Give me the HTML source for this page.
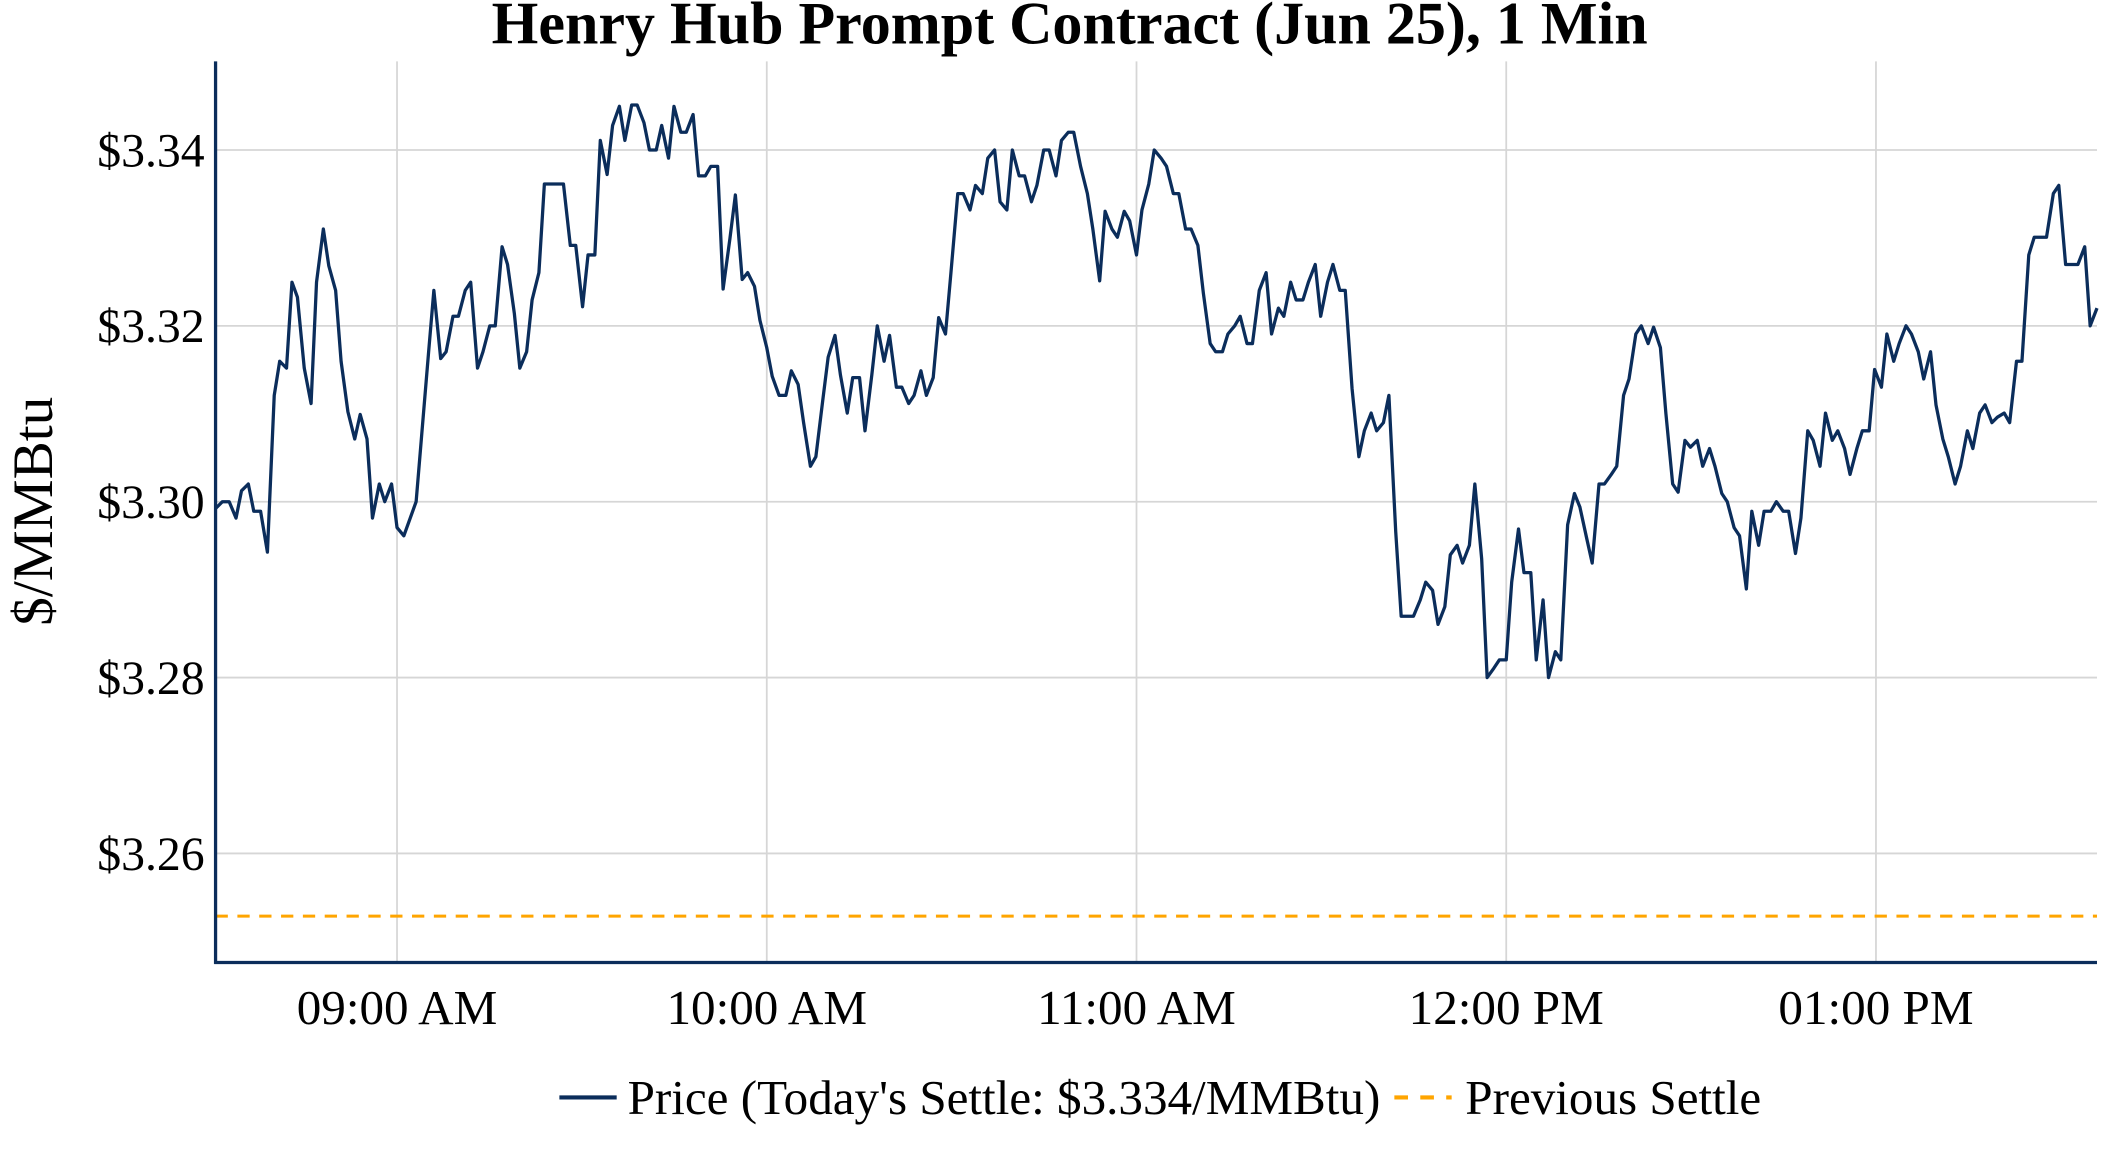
<!DOCTYPE html>
<html><head><meta charset="utf-8"><style>
html,body{margin:0;padding:0;background:#fff;}
svg{display:block;}
text{font-family:"Liberation Serif",serif;fill:#000;}
</style></head><body>
<svg width="2112" height="1152" viewBox="0 0 1548 845" preserveAspectRatio="none" xmlns="http://www.w3.org/2000/svg">
<rect width="1548" height="845" fill="#fff"/>
<g stroke="#d6d6d6" stroke-width="1.3">
<line x1="158" y1="110" x2="1537" y2="110"/>
<line x1="158" y1="239" x2="1537" y2="239"/>
<line x1="158" y1="368" x2="1537" y2="368"/>
<line x1="158" y1="497" x2="1537" y2="497"/>
<line x1="158" y1="626" x2="1537" y2="626"/>
<line x1="291" y1="45" x2="291" y2="706"/>
<line x1="562" y1="45" x2="562" y2="706"/>
<line x1="833" y1="45" x2="833" y2="706"/>
<line x1="1104" y1="45" x2="1104" y2="706"/>
<line x1="1375" y1="45" x2="1375" y2="706"/>
</g>
<line x1="158" y1="672" x2="1537" y2="672" stroke="#ffa500" stroke-width="2.2" stroke-dasharray="9,7"/>
<polyline fill="none" stroke="#0b2d5b" stroke-width="2.4" stroke-linejoin="round" points="158,373 163,368 168,368 173,380 177,360 182,355 186,375 191,375 196,405 201,290 205,265 210,270 214,207 218,218 223,270 228,296 232,207 237,168 241,195 246,213 250,265 255,302 260,322 264,304 269,322 273,380 278,355 282,368 287,355 291,387 296,393 305,368 309,320 314,260 318,213 323,263 327,258 332,232 336,232 341,213 345,207 350,270 354,258 359,239 363,239 368,181 372,194 377,230 381,270 386,258 390,220 395,200 399,135 413,135 418,180 422,180 427,225 431,187 436,187 440,103 445,128 449,92 454,78 458,103 463,77 467,77 472,90 476,110 481,110 485,92 490,116 494,78 499,97 503,97 508,84 512,129 517,129 521,122 526,122 530,212 535,175 539,143 544,205 548,200 553,210 557,235 562,255 566,276 571,290 576,290 580,272 585,282 589,310 594,342 598,335 603,294 607,262 612,246 616,275 621,303 625,277 630,277 634,316 639,275 643,239 648,265 652,246 657,284 661,284 666,296 670,290 675,272 679,290 684,277 688,233 693,245 697,200 702,142 706,142 711,154 715,136 720,142 724,116 729,110 733,148 738,154 742,110 747,129 751,129 756,148 760,136 765,110 769,110 774,129 778,103 783,97 787,97 792,122 797,142 801,168 806,206 810,155 815,168 819,174 824,155 828,162 833,187 837,154 842,135 846,110 851,116 855,122 860,142 864,142 869,168 873,168 878,180 882,215 887,252 891,258 896,258 900,245 905,239 909,232 914,252 918,252 923,213 928,200 932,245 937,226 941,232 946,207 950,220 955,220 959,207 964,194 968,232 973,207 977,194 982,213 986,213 991,285 996,335 1000,316 1005,303 1009,316 1014,310 1018,290 1023,390 1027,452 1036,452 1041,440 1045,427 1050,433 1054,458 1059,445 1063,407 1068,400 1072,413 1077,400 1081,355 1086,410 1090,497 1095,490 1099,484 1104,484 1108,427 1113,388 1117,420 1122,420 1126,484 1131,440 1135,497 1140,478 1144,484 1149,385 1154,362 1158,372 1163,395 1167,413 1172,355 1176,355 1181,348 1185,342 1190,290 1194,278 1199,245 1203,239 1208,252 1212,240 1217,255 1221,303 1226,355 1230,361 1235,323 1239,328 1244,323 1248,342 1253,329 1257,342 1262,362 1266,368 1271,387 1275,393 1280,432 1284,375 1289,400 1293,375 1298,375 1302,368 1307,375 1311,375 1316,406 1320,380 1325,316 1329,323 1334,342 1338,303 1343,323 1347,316 1352,329 1356,348 1361,329 1365,316 1370,316 1374,271 1379,284 1383,245 1388,265 1392,252 1397,239 1401,245 1406,258 1410,278 1415,258 1419,297 1424,322 1428,335 1433,355 1437,342 1442,316 1446,329 1451,303 1455,297 1460,310 1464,306 1469,303 1473,310 1478,265 1482,265 1487,187 1491,174 1496,174 1500,174 1505,142 1509,136 1514,194 1518,194 1523,194 1528,181 1532,239 1537,226"/>
<line x1="158" y1="45" x2="158" y2="707" stroke="#0b2d5b" stroke-width="2.4"/>
<line x1="157" y1="706" x2="1537" y2="706" stroke="#0b2d5b" stroke-width="2.4"/>
<g font-size="35" text-anchor="end">
<text x="150" y="122">$3.34</text>
<text x="150" y="251">$3.32</text>
<text x="150" y="380">$3.30</text>
<text x="150" y="509">$3.28</text>
<text x="150" y="638">$3.26</text>
</g>
<g font-size="36" text-anchor="middle">
<text x="291" y="751">09:00 AM</text>
<text x="562" y="751">10:00 AM</text>
<text x="833" y="751">11:00 AM</text>
<text x="1104" y="751">12:00 PM</text>
<text x="1375" y="751">01:00 PM</text>
</g>
<text x="784" y="32" font-size="44" font-weight="bold" text-anchor="middle">Henry Hub Prompt Contract (Jun 25), 1 Min</text>
<text transform="translate(38,375) rotate(-90)" font-size="42" text-anchor="middle">$/MMBtu</text>
<line x1="410" y1="805" x2="452" y2="805" stroke="#0b2d5b" stroke-width="3"/>
<text x="460" y="817" font-size="36">Price (Today's Settle: $3.334/MMBtu)</text>
<line x1="1022" y1="805" x2="1064" y2="805" stroke="#ffa500" stroke-width="3" stroke-dasharray="10,9"/>
<text x="1074" y="817" font-size="36">Previous Settle</text>
</svg>
</body></html>
